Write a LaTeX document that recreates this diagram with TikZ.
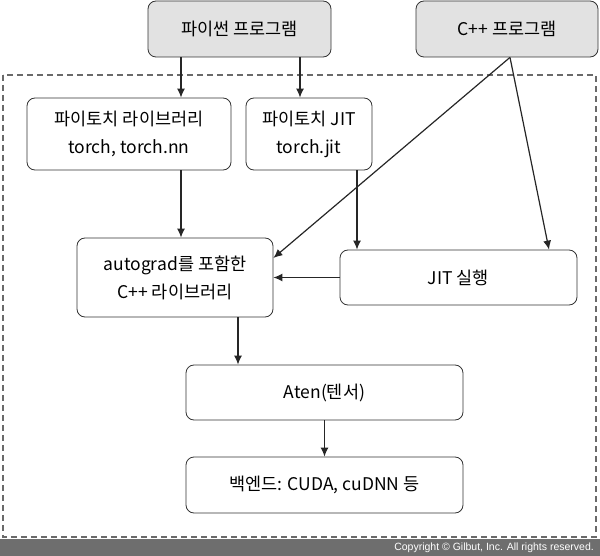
\documentclass[tikz,border=0pt]{standalone}
\usepackage{fontspec}
\setmainfont{Noto Sans CJK KR}
\newfontfamily\latinsans{Liberation Sans}
\usepackage{tikz}
\usetikzlibrary{calc,arrows.meta}

\definecolor{boxgray}{HTML}{E2E2E2}
\definecolor{bandgray}{HTML}{6E6E6E}
\definecolor{dashgray}{HTML}{6A6A6A}

\begin{document}
\begin{tikzpicture}[x=1pt,y=-1pt]
                \useasboundingbox (0,0) rectangle (600,556);
                \fill[bandgray] (0,539) rectangle (600,556);
                \node[anchor=east, text=white, font=\latinsans\fontsize{10.5}{12}\selectfont, inner sep=0] (copy) at (594,548) {Copyright \textcopyright{} Gilbut, Inc. All rights reserved.};
                \draw[dashgray, line width=2.6pt, dash pattern=on 6pt off 4pt] (3,75) rectangle (596,537);

                \begin{scope}[every node/.style={draw=black!80, line width=0.8pt, rounded corners=8pt, align=center, inner sep=2pt, font=\fontsize{17.5}{28}\selectfont}]
                        \node [fill=boxgray, minimum width=183pt, minimum height=56pt] (py) at (239.5,29) {파이썬 프로그램};
                        \node [fill=boxgray, minimum width=182pt, minimum height=56pt] (cpp) at (507,29) {C++ 프로그램};
                        \node [minimum width=204pt, minimum height=72pt] (lib) at (129,134) {파이토치 라이브러리\\torch, torch.nn};
                        \node [minimum width=126pt, minimum height=72pt] (jit) at (309,134) {파이토치 JIT\\torch.jit};
                        \node [minimum width=196pt, minimum height=79pt] (grad) at (175,277.5) {autograd를 포함한\\C++ 라이브러리};
                        \node [minimum width=237pt, minimum height=55pt] (run) at (458.5,277.5) {JIT 실행};
                        \node [minimum width=277pt, minimum height=55pt] (aten) at (324.5,392.5) {Aten(텐서)};
                        \node [minimum width=277pt, minimum height=56pt] (back) at (324.5,485) {백엔드: CUDA, cuDNN 등};
                \end{scope}

                \coordinate (c1) at (181,0);
                \coordinate (c2) at (300,0);
                \coordinate (c3) at (357,0);
                \coordinate (c4) at (238,0);
                \coordinate (c5) at (549,0);
                \coordinate (c6) at (0,258);
                \coordinate (c7) at (510,0);

                \begin{scope}[>={Latex[length=9pt,width=8pt]}, line width=1.2pt, black!85]
                        \draw[->] (py.south -| c1) -- (lib.north -| c1);
                        \draw[->] (py.south -| c2) -- (jit.north -| c2);
                        \draw[->] (cpp.south -| c7) -- (grad.east |- c6);
                        \draw[->] (cpp.south -| c7) -- (run.north -| c5);
                        \draw[->] (lib.south -| c1) -- (grad.north -| c1);
                        \draw[->] (jit.south -| c3) -- (run.north -| c3);
                        \draw[->] (run.west) -- (grad.east);
                        \draw[->] (grad.south -| c4) -- (aten.north -| c4);
                        \draw[->] (aten.south) -- (back.north);
                \end{scope}
\end{tikzpicture}
\end{document}
